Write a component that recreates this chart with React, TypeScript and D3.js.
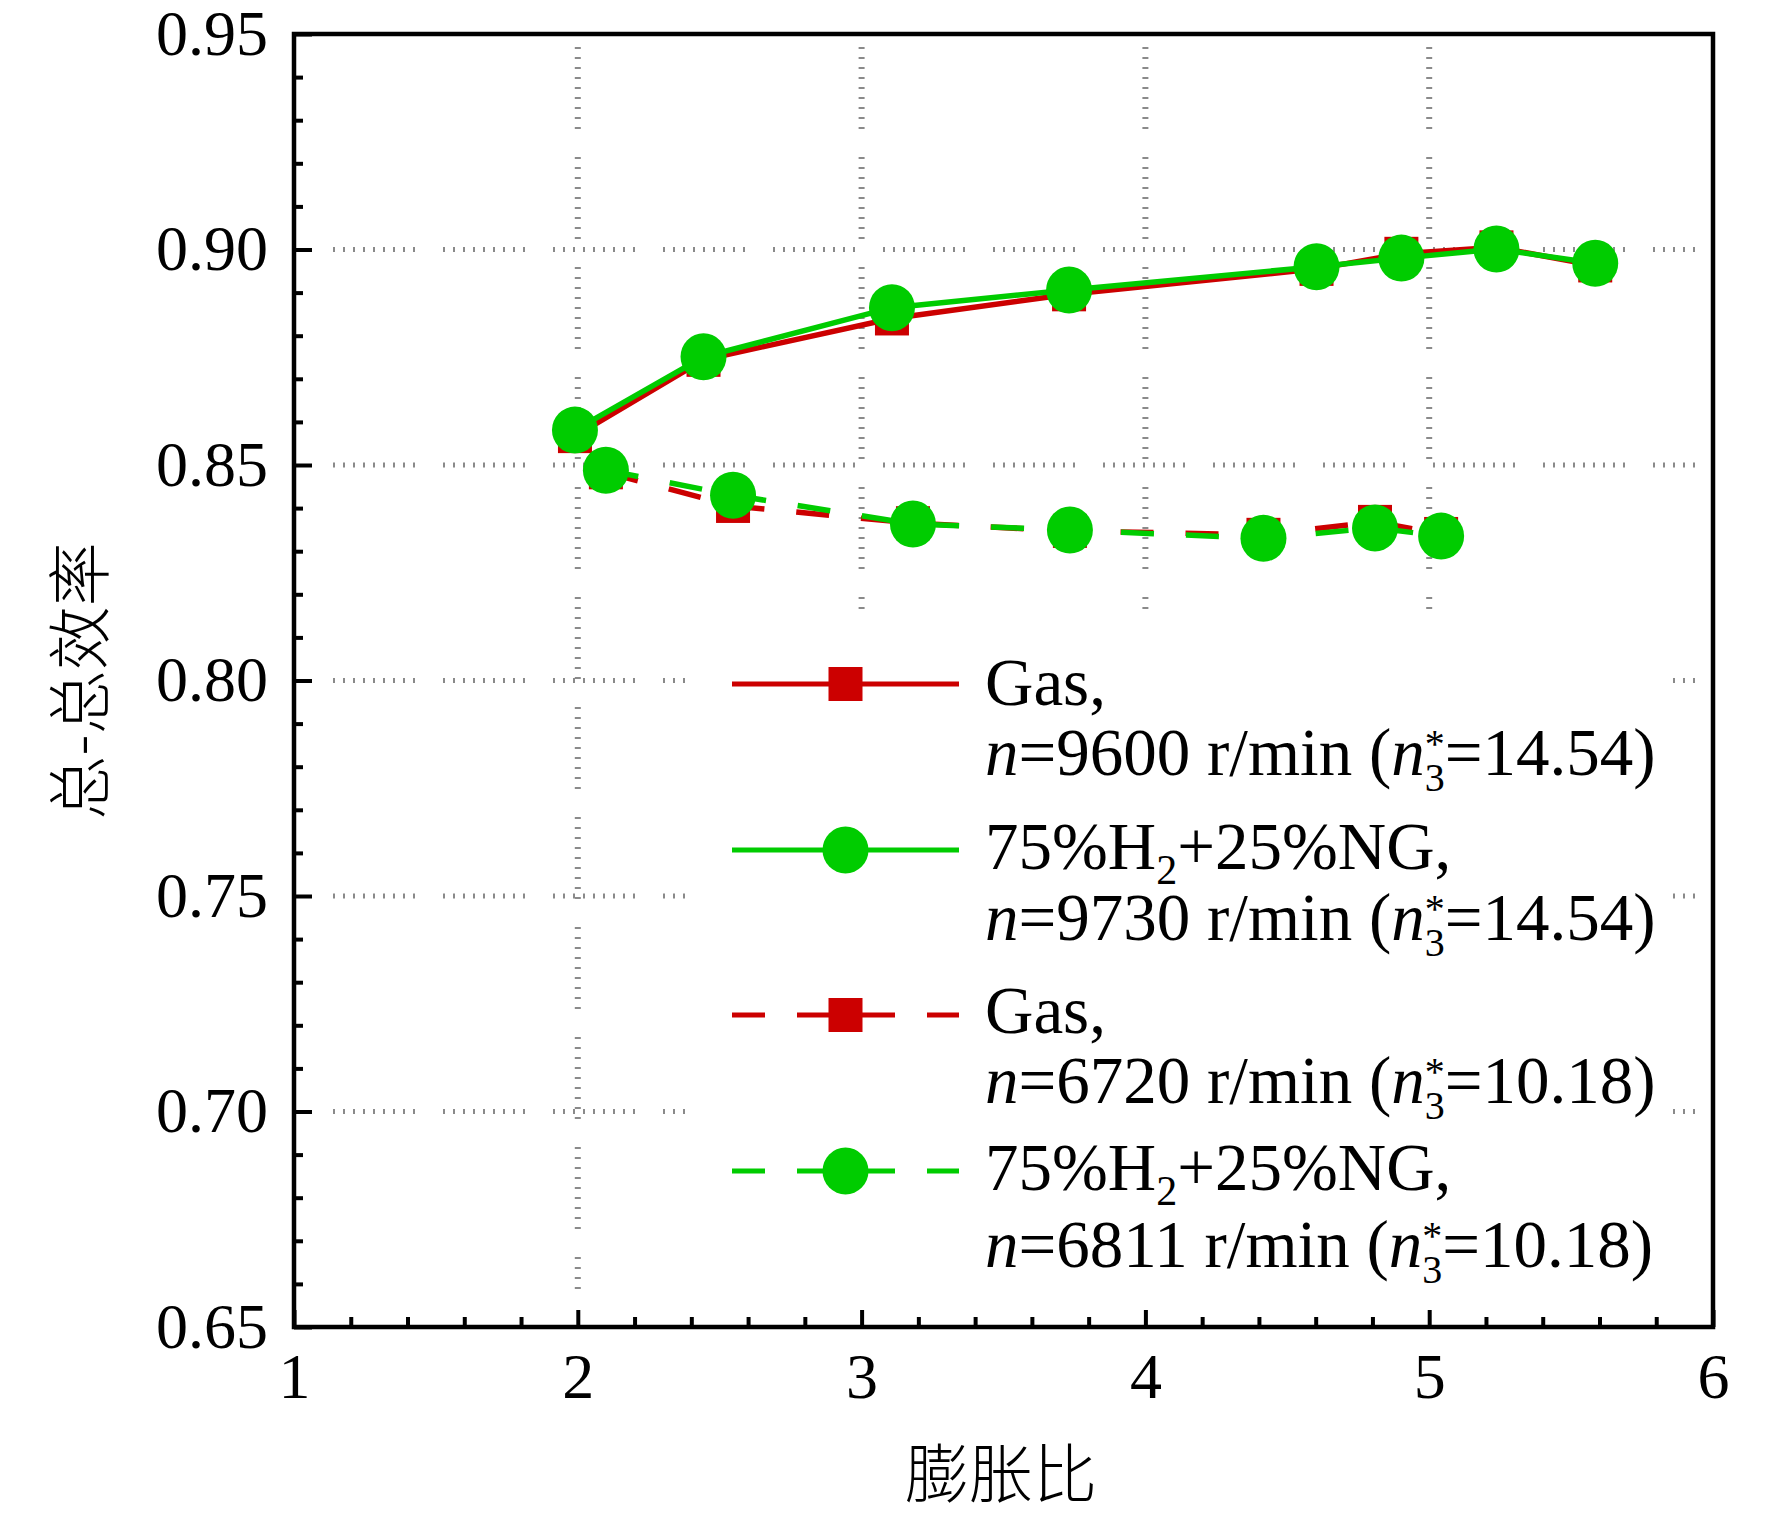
import * as d3 from "d3";
import { useEffect, useMemo, useRef } from "react";

const WIDTH = 1772;
const HEIGHT = 1517;
const MARGIN = { top: 34, right: 59, bottom: 190, left: 294 };

const RED = "#cc0000";
const GREEN = "#00cc00";

// 膨胀比 (x) 与 总-总效率 (y)
const xTicks = [1, 2, 3, 4, 5, 6];
const yTicks = [0.65, 0.7, 0.75, 0.8, 0.85, 0.9, 0.95];

const ratioHigh = [1.99, 2.443, 3.107, 3.731, 4.603, 4.902, 5.237, 5.585];
const gas9600 = [0.8567, 0.8744, 0.884, 0.8896, 0.8955, 0.899, 0.9005, 0.8963];
const h2_9730 = [0.8581, 0.8751, 0.8865, 0.8906, 0.896, 0.898, 0.9001, 0.8968];

const ratioLow = [2.099, 2.547, 3.181, 3.734, 4.416, 4.809, 5.042];
const gas6720 = [0.8483, 0.8405, 0.8365, 0.8347, 0.8338, 0.8368, 0.834];
const h2_6811 = [0.8488, 0.843, 0.8363, 0.8349, 0.833, 0.8354, 0.8335];

const speeds = ["9600", "9730", "6720", "6811"];
const nStar = ["14.54", "14.54", "10.18", "10.18"];

const SERIF = "'Liberation Serif', 'Times New Roman', serif";
const CJK = "'Noto Sans CJK SC', sans-serif";
const GRID_DASH = "2 8 2 8 2 8 2 8 2 8 2 8 2 8 2 8 2 28";
const LINE_DASH = "33 32";

type Pt = { x: number; y: number };
const zipPts = (xs: number[], ys: number[]): Pt[] => xs.map((x, i) => ({ x, y: ys[i] }));

type SeriesProps = {
  data: Pt[];
  xScale: d3.ScaleLinear<number, number>;
  yScale: d3.ScaleLinear<number, number>;
  color: string;
  dashed: boolean;
  marker: "square" | "circle";
};

const Series = ({ data, xScale, yScale, color, dashed, marker }: SeriesProps) => {
  const line = d3.line<Pt>().x((d) => xScale(d.x)).y((d) => yScale(d.y));
  return (
    <g>
      <path
        d={line(data) || ""}
        fill="none"
        stroke={color}
        strokeWidth={5.5}
        strokeDasharray={dashed ? LINE_DASH : undefined}
      />
      {data.map((d, i) =>
        marker === "square" ? (
          <rect key={i} x={xScale(d.x) - 17} y={yScale(d.y) - 17} width={34} height={34} fill={color} />
        ) : (
          <ellipse key={i} cx={xScale(d.x)} cy={yScale(d.y)} rx={23} ry={23.5} fill={color} />
        )
      )}
    </g>
  );
};

const LegendText = ({ i, x, y1, y2, h2 }: { i: number; x: number; y1: number; y2: number; h2: boolean }) => (
  <g fontFamily={SERIF} fontSize={67} fill="#000">
    <text x={x} y={y1}>
      {h2 ? (
        <>
          75%H<tspan fontSize={42} dy={15}>2</tspan>
          <tspan dy={-15}>+25%NG,</tspan>
        </>
      ) : (
        "Gas,"
      )}
    </text>
    <text x={x} y={y2}>
      <tspan fontStyle="italic">n</tspan>={speeds[i]} r/min (<tspan fontStyle="italic">n</tspan>
      <tspan fontSize={40} dy={-18}>*</tspan>
      <tspan fontSize={40} dx={-20} dy={34}>3</tspan>
      <tspan dy={-16}>={nStar[i]})</tspan>
    </text>
  </g>
);

export const EfficiencyChart = () => {
  const boundsWidth = WIDTH - MARGIN.left - MARGIN.right;
  const boundsHeight = HEIGHT - MARGIN.top - MARGIN.bottom;

  const xScale = useMemo(
    () => d3.scaleLinear().domain([xTicks[0], xTicks[xTicks.length - 1]]).range([0, boundsWidth]),
    [boundsWidth]
  );
  const yScale = useMemo(
    () => d3.scaleLinear().domain([yTicks[0], yTicks[yTicks.length - 1]]).range([boundsHeight, 0]),
    [boundsHeight]
  );

  const axesRef = useRef<SVGGElement>(null);
  useEffect(() => {
    const g = d3.select(axesRef.current);
    g.selectAll("*").remove();

    // 次刻度
    const xMinor = d3.range(1, 6.001, 0.2).filter((v) => Math.abs(v - Math.round(v)) > 1e-6);
    const yMinor = d3.range(0.65, 0.9501, 0.01).filter((v) => Math.abs(v * 20 - Math.round(v * 20)) > 1e-6);

    g.append("g")
      .attr("transform", `translate(0,${boundsHeight})`)
      .call(d3.axisBottom(xScale).tickValues(xMinor).tickSize(-10).tickFormat(() => ""));
    g.append("g").call(d3.axisLeft(yScale).tickValues(yMinor).tickSize(-9).tickFormat(() => ""));

    g.append("g")
      .attr("transform", `translate(0,${boundsHeight})`)
      .call(d3.axisBottom(xScale).tickValues(xTicks).tickSize(-17).tickSizeOuter(0).tickPadding(26).tickFormat(d3.format("d")));
    g.append("g")
      .call(d3.axisLeft(yScale).tickValues(yTicks).tickSize(-18).tickSizeOuter(0).tickPadding(26).tickFormat(d3.format(".2f")));

    g.selectAll(".domain").remove();
    g.selectAll(".tick line").attr("stroke", "#000").attr("stroke-width", 4);
    g.selectAll(".tick text").attr("font-family", SERIF).attr("font-size", 64).attr("fill", "#000");
  }, [xScale, yScale, boundsHeight]);

  const highGas = zipPts(ratioHigh, gas9600);
  const highH2 = zipPts(ratioHigh, h2_9730);
  const lowGas = zipPts(ratioLow, gas6720);
  const lowH2 = zipPts(ratioLow, h2_6811);

  const gridX0 = 39;
  const gridX1 = boundsWidth - 16;
  const gridY0 = 13;
  const gridY1 = boundsHeight - 38;

  // 图例位置 (相对绘图区)
  const lgX0 = 732 - MARGIN.left;
  const lgX1 = 959 - MARGIN.left;
  const lgMid = (lgX0 + lgX1) / 2;
  const lgText = 985 - MARGIN.left;
  const rows = [
    { line: 684, t1: 705, t2: 775 },
    { line: 850, t1: 869, t2: 940 },
    { line: 1015, t1: 1033, t2: 1103 },
    { line: 1171, t1: 1190, t2: 1267 },
  ].map((r) => ({ line: r.line - MARGIN.top, t1: r.t1 - MARGIN.top, t2: r.t2 - MARGIN.top }));

  return (
    <svg width={WIDTH} height={HEIGHT} style={{ position: "absolute", left: 0, top: 0, background: "#fff" }}>
      <g transform={`translate(${MARGIN.left},${MARGIN.top})`}>
        {/* 网格 */}
        {yTicks.slice(1, -1).map((t) => (
          <line key={"gy" + t} x1={gridX0} x2={gridX1} y1={yScale(t)} y2={yScale(t)}
            stroke="#8a8a8a" strokeWidth={5} strokeDasharray={GRID_DASH} />
        ))}
        {xTicks.slice(1, -1).map((t) => (
          <line key={"gx" + t} x1={xScale(t)} x2={xScale(t)} y1={gridY0} y2={gridY1}
            stroke="#8a8a8a" strokeWidth={6} strokeDasharray={GRID_DASH} />
        ))}

        {/* 图例底 */}
        <rect x={690 - MARGIN.left} y={611 - MARGIN.top} width={1673 - 690} height={1290 - 611} fill="#fff" />

        <Series data={highGas} xScale={xScale} yScale={yScale} color={RED} dashed={false} marker="square" />
        <Series data={lowGas} xScale={xScale} yScale={yScale} color={RED} dashed={true} marker="square" />
        <Series data={highH2} xScale={xScale} yScale={yScale} color={GREEN} dashed={false} marker="circle" />
        <Series data={lowH2} xScale={xScale} yScale={yScale} color={GREEN} dashed={true} marker="circle" />

        {/* 图例 */}
        {rows.map((r, i) => {
          const color = i % 2 === 0 ? RED : GREEN;
          const dashed = i >= 2;
          return (
            <g key={"lg" + i}>
              <line x1={lgX0} x2={lgX1} y1={r.line} y2={r.line} stroke={color} strokeWidth={5}
                strokeDasharray={dashed ? "33 32 98 32 33" : undefined} />
              {i % 2 === 0 ? (
                <rect x={lgMid - 17} y={r.line - 17} width={34} height={34} fill={color} />
              ) : (
                <ellipse cx={lgMid} cy={r.line} rx={23} ry={23.5} fill={color} />
              )}
              <LegendText i={i} x={lgText} y1={r.t1} y2={r.t2} h2={i % 2 === 1} />
            </g>
          );
        })}

        <rect x={0} y={0} width={boundsWidth} height={boundsHeight} fill="none" stroke="#000" strokeWidth={4.5} />
      </g>

      <g ref={axesRef} transform={`translate(${MARGIN.left},${MARGIN.top})`} />

      <text x={1001} y={1497} textAnchor="middle" fontFamily={CJK} fontWeight={300} fontSize={64} fill="#000">
        膨胀比
      </text>
      <text transform="translate(103,681) rotate(-90)" textAnchor="middle" fontFamily={CJK} fontWeight={300} fontSize={64} fill="#000">
        总-总效率
      </text>
    </svg>
  );
};

export default function App() {
  return <EfficiencyChart />;
}
